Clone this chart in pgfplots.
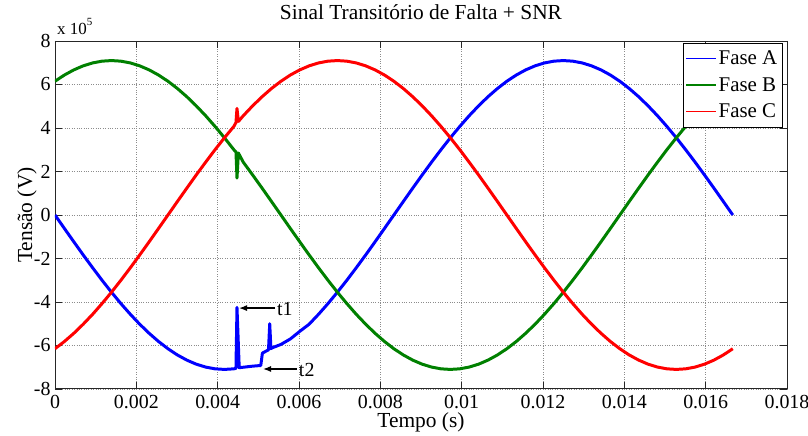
\documentclass[border=0pt]{standalone}
\usepackage{fontspec}
\setmainfont{Liberation Serif}
\usepackage{pgfplots}
\pgfplotsset{compat=1.18}
\usetikzlibrary{arrows.meta}
\definecolor{fA}{rgb}{0,0,1}
\definecolor{fB}{rgb}{0,0.5,0}
\definecolor{fC}{rgb}{1,0,0}
\begin{document}
\begin{tikzpicture}
\begin{axis}[
  scale only axis, width=732bp, height=348bp,
  xmin=0, xmax=0.018, ymin=-8, ymax=8,
  scaled x ticks=false, scaled y ticks=false,
  xtick={0,0.002,0.004,0.006,0.008,0.01,0.012,0.014,0.016,0.018},
  xticklabels={\textrm{0},\textrm{0.002},\textrm{0.004},\textrm{0.006},\textrm{0.008},\textrm{0.01},\textrm{0.012},\textrm{0.014},\textrm{0.016},\textrm{0.018}},
  ytick={-8,-6,-4,-2,0,2,4,6,8},
  yticklabels={\textrm{-8},\textrm{-6},\textrm{-4},\textrm{-2},\textrm{0},\textrm{2},\textrm{4},\textrm{6},\textrm{8}},
  tick align=inside, tick pos=both, major tick length=7bp,
  grid=major, grid style={black!45, dotted, line width=0.6pt},
  axis line style={black!85, line width=1pt},
  tick style={black!85, line width=0.9pt},
  ticklabel style={font=\fontsize{20}{22}\selectfont},
  xticklabel style={yshift=-3bp},
  yticklabel style={xshift=-1bp},
  title={Sinal Transitório de Falta + SNR},
  title style={font=\fontsize{21.5}{24}\selectfont, at={(axis description cs:0.5,1)}, anchor=base, yshift=16bp},
  xlabel={Tempo (s)},
  xlabel style={font=\fontsize{21.5}{24}\selectfont, at={(axis description cs:0.5,-0.112)}, anchor=base},
  ylabel={Tensão (V)},
  ylabel style={font=\fontsize{21.5}{24}\selectfont, at={(axis description cs:-0.0314,0.5)}, anchor=base},
  legend style={at={(rel axis cs:0.9932,0.9943)}, anchor=north east, draw=black, fill=white,
    font=\fontsize{21}{24}\selectfont, inner sep=2.5bp, row sep=0bp,
    nodes={inner ysep=5.5bp, inner xsep=2bp}},
  legend cell align=left,
  legend image code/.code={\draw[#1, line width=1.2pt] (0bp,0bp) -- (30bp,0bp);},
]
\addplot[color=fA, line width=3pt, line join=round] coordinates {
(0,0) (0.000231,-0.619) (0.000463,-1.233) (0.000694,-1.838) (0.000926,-2.428)
(0.001157,-3.001) (0.001389,-3.550) (0.001620,-4.072) (0.001852,-4.564) (0.002083,-5.020)
(0.002315,-5.439) (0.002546,-5.816) (0.002778,-6.149) (0.003009,-6.435) (0.003241,-6.672)
(0.003472,-6.858) (0.003704,-6.992) (0.003935,-7.073) (0.004167,-7.100) (0.004398,-7.073)
(0.004450,-7.05) (0.004475,-4.25) (0.004530,-7.02) (0.004630,-7.00) (0.004861,-6.95)
(0.005060,-6.92) (0.005100,-6.35) (0.005250,-6.20) (0.005280,-5.00) (0.005310,-6.15)
(0.005324,-6.12) (0.005556,-5.95) (0.005787,-5.70) (0.006019,-5.35) (0.006250,-5.020)
(0.006481,-4.564) (0.006713,-4.072) (0.006944,-3.550) (0.007176,-3.001) (0.007407,-2.428)
(0.007639,-1.838) (0.007870,-1.233) (0.008102,-0.619) (0.008333,0) (0.008565,0.619)
(0.008796,1.233) (0.009028,1.838) (0.009259,2.428) (0.009491,3.001) (0.009722,3.550)
(0.009954,4.072) (0.010185,4.564) (0.010417,5.020) (0.010648,5.439) (0.010880,5.816)
(0.011111,6.149) (0.011343,6.435) (0.011574,6.672) (0.011806,6.858) (0.012037,6.992)
(0.012269,7.073) (0.012500,7.100) (0.012731,7.073) (0.012963,6.992) (0.013194,6.858)
(0.013426,6.672) (0.013657,6.435) (0.013889,6.149) (0.014120,5.816) (0.014352,5.439)
(0.014583,5.020) (0.014815,4.564) (0.015046,4.072) (0.015278,3.550) (0.015509,3.001)
(0.015741,2.428) (0.015972,1.838) (0.016204,1.233) (0.016435,0.619) (0.016667,0)
};
\addlegendentry{Fase A}
\addplot[color=fB, line width=3pt, line join=round] coordinates {
(0,6.149) (0.000231,6.435) (0.000463,6.672) (0.000694,6.858) (0.000926,6.992)
(0.001157,7.073) (0.001389,7.100) (0.001620,7.073) (0.001852,6.992) (0.002083,6.858)
(0.002315,6.672) (0.002546,6.435) (0.002778,6.149) (0.003009,5.816) (0.003241,5.439)
(0.003472,5.020) (0.003704,4.564) (0.003935,4.072) (0.004167,3.550) (0.004398,3.001)
(0.004450,2.90) (0.004475,1.70) (0.004510,2.85) (0.004630,2.428)
(0.004861,1.838) (0.005093,1.233) (0.005324,0.619) (0.005556,0) (0.005787,-0.619)
(0.006019,-1.233) (0.006250,-1.838) (0.006481,-2.428) (0.006713,-3.001) (0.006944,-3.550)
(0.007176,-4.072) (0.007407,-4.564) (0.007639,-5.020) (0.007870,-5.439) (0.008102,-5.816)
(0.008333,-6.149) (0.008565,-6.435) (0.008796,-6.672) (0.009028,-6.858) (0.009259,-6.992)
(0.009491,-7.073) (0.009722,-7.100) (0.009954,-7.073) (0.010185,-6.992) (0.010417,-6.858)
(0.010648,-6.672) (0.010880,-6.435) (0.011111,-6.149) (0.011343,-5.816) (0.011574,-5.439)
(0.011806,-5.020) (0.012037,-4.564) (0.012269,-4.072) (0.012500,-3.550) (0.012731,-3.001)
(0.012963,-2.428) (0.013194,-1.838) (0.013426,-1.233) (0.013657,-0.619) (0.013889,0)
(0.014120,0.619) (0.014352,1.233) (0.014583,1.838) (0.014815,2.428) (0.015046,3.001)
(0.015278,3.550) (0.015509,4.072) (0.015741,4.564) (0.015972,5.020) (0.016204,5.439)
(0.016435,5.816) (0.016667,6.149)
};
\addlegendentry{Fase B}
\addplot[color=fC, line width=3pt, line join=round] coordinates {
(0,-6.149) (0.000231,-5.816) (0.000463,-5.439) (0.000694,-5.020) (0.000926,-4.564)
(0.001157,-4.072) (0.001389,-3.550) (0.001620,-3.001) (0.001852,-2.428) (0.002083,-1.838)
(0.002315,-1.233) (0.002546,-0.619) (0.002778,0) (0.003009,0.619) (0.003241,1.233)
(0.003472,1.838) (0.003704,2.428) (0.003935,3.001) (0.004167,3.550) (0.004398,4.072)
(0.004450,4.25) (0.004475,4.90) (0.004510,4.30) (0.004630,4.564) (0.004861,5.020)
(0.005093,5.439) (0.005324,5.816) (0.005556,6.149) (0.005787,6.435) (0.006019,6.672)
(0.006250,6.858) (0.006481,6.992) (0.006713,7.073) (0.006944,7.100) (0.007176,7.073)
(0.007407,6.992) (0.007639,6.858) (0.007870,6.672) (0.008102,6.435) (0.008333,6.149)
(0.008565,5.816) (0.008796,5.439) (0.009028,5.020) (0.009259,4.564) (0.009491,4.072)
(0.009722,3.550) (0.009954,3.001) (0.010185,2.428) (0.010417,1.838) (0.010648,1.233)
(0.010880,0.619) (0.011111,0) (0.011343,-0.619) (0.011574,-1.233) (0.011806,-1.838)
(0.012037,-2.428) (0.012269,-3.001) (0.012500,-3.550) (0.012731,-4.072) (0.012963,-4.564)
(0.013194,-5.020) (0.013426,-5.439) (0.013657,-5.816) (0.013889,-6.149) (0.014120,-6.435)
(0.014352,-6.672) (0.014583,-6.858) (0.014815,-6.992) (0.015046,-7.073) (0.015278,-7.100)
(0.015509,-7.073) (0.015741,-6.992) (0.015972,-6.858) (0.016204,-6.672) (0.016435,-6.435)
(0.016667,-6.149)
};
\addlegendentry{Fase C}
\draw[-{Latex[length=8bp,width=6bp]}, line width=1.2pt] (axis cs:0.00541,-4.28) -- (axis cs:0.004525,-4.28);
\node[anchor=west, font=\fontsize{20}{22}\selectfont, inner sep=1bp] at (axis cs:0.00543,-4.33) {t1};
\draw[-{Latex[length=8bp,width=6bp]}, line width=1.2pt] (axis cs:0.00595,-7.08) -- (axis cs:0.005115,-7.08);
\node[anchor=west, font=\fontsize{20}{22}\selectfont, inner sep=1bp] at (axis cs:0.00597,-7.13) {t2};
\end{axis}
\node[anchor=base west, font=\fontsize{17}{20}\selectfont, inner sep=0pt] at ([xshift=2bp,yshift=6bp]current axis.north west) {x 10\raisebox{0.55em}{\fontsize{11}{12}\selectfont 5}};
\pgfresetboundingbox
\path ([xshift=-55bp,yshift=-47bp]current axis.south west) rectangle ([xshift=21bp,yshift=41bp]current axis.north east);
\end{tikzpicture}
\end{document}
